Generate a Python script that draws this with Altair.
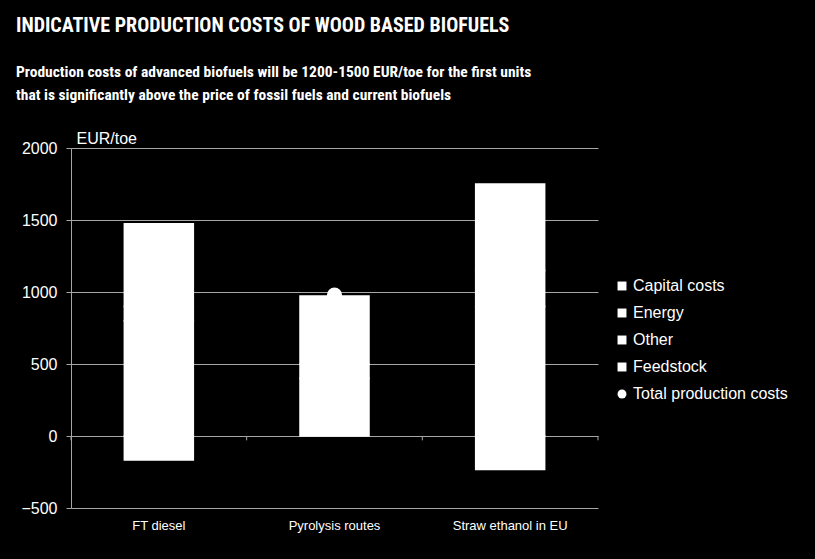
import altair as alt
import pandas as pd

categories = ["FT diesel", "Pyrolysis routes", "Straw ethanol in EU"]
components = ["Capital costs", "Energy", "Other", "Feedstock"]
capital_costs = [800, 400, 900]
energy = [100, 100, 250]
other = [-167, 0, -232]
feedstock = [574, 472, 600]
total_costs = [1307, 978, 1518]
legend_items = components + ["Total production costs"]
y_ticks = [-500, 0, 500, 1000, 1500, 2000]

title_text = "INDICATIVE PRODUCTION COSTS OF WOOD BASED BIOFUELS"
subtitle_lines = [
    "Production costs of advanced biofuels will be 1200-1500 EUR/toe for the first units",
    "that is significantly above the price of fossil fuels and current biofuels",
]

rows = []
for comp, vals in zip(components, [capital_costs, energy, other, feedstock]):
    for c, v in zip(categories, vals):
        rows.append({"category": c, "series": comp, "value": v, "order": components.index(comp)})
bars_df = pd.DataFrame(rows)
tot_df = pd.DataFrame({"category": categories, "series": "Total production costs", "value": total_costs})

W, H = 527, 360
FONT = "Liberation Sans"
NARROW = "Roboto Condensed"

x_enc = alt.X("category:N", sort=categories,
              scale=alt.Scale(paddingInner=0, paddingOuter=0),
              axis=alt.Axis(title=None, domain=False, ticks=False, labelColor="white",
                            labelFontSize=13, labelFont=FONT, labelPadding=11, labelAngle=0))
y_scale = alt.Scale(domain=[-500, 2000], nice=False, zero=False)
y_axis = alt.Axis(values=y_ticks, format="d", title="EUR/toe", titleAngle=0, titleAlign="left",
                  titleBaseline="middle", titleX=5, titleY=-10, titleColor="white",
                  titleFontSize=16, titleFont=FONT, titleFontWeight="normal",
                  labelColor="white", labelFontSize=16, labelFont=FONT, labelPadding=9,
                  tickSize=5, tickColor="#a6a6a6", domainColor="#a6a6a6",
                  gridColor="#a6a6a6", grid=True)

color_scale = alt.Scale(domain=legend_items, range=["white"] * 5)
shape_scale = alt.Scale(domain=legend_items, range=["square"] * 4 + ["circle"])
legend = alt.Legend(title=None, orient="none", legendX=543, legendY=130,
                    labelColor="white", labelFontSize=16, labelFont=FONT,
                    symbolSize=80, rowPadding=11, padding=0, symbolStrokeWidth=0,
                    symbolOpacity=1, labelOffset=3)

bars = alt.Chart(bars_df).mark_bar(size=69, stroke="white", strokeWidth=1.5).encode(
    x=x_enc,
    y=alt.Y("value:Q", scale=y_scale, axis=y_axis, stack="zero"),
    color=alt.Color("series:N", scale=color_scale, legend=legend),
    shape=alt.Shape("series:N", scale=shape_scale, legend=legend),
    order=alt.Order("order:Q"),
)

points = alt.Chart(tot_df).mark_point(filled=True, size=230, opacity=1).encode(
    x=alt.X("category:N", sort=categories),
    y=alt.Y("value:Q"),
    color=alt.Color("series:N", scale=color_scale, legend=legend),
    shape=alt.Shape("series:N", scale=shape_scale, legend=legend),
)

tick_df = pd.DataFrame({"category": categories})
ticks = alt.Chart(tick_df).mark_rule(color="#a6a6a6", strokeWidth=1).encode(
    x=alt.X("category:N", sort=categories, bandPosition=0),
    y=alt.datum(0),
    y2=alt.datum(-30),
)
ticks_end = alt.Chart(pd.DataFrame({"category": [categories[-1]]})).mark_rule(color="#a6a6a6").encode(
    x=alt.X("category:N", sort=categories, bandPosition=1),
    y=alt.datum(0),
    y2=alt.datum(-30),
)

title = alt.Chart(pd.DataFrame({"t": [title_text]})).mark_text(
    align="left", baseline="alphabetic", color="white", fontSize=20,
    fontWeight="bold", font=NARROW).encode(
    text="t:N", x=alt.value(-55), y=alt.value(-116))

sub1 = alt.Chart(pd.DataFrame({"t": [subtitle_lines[0]]})).mark_text(
    align="left", baseline="alphabetic", color="white", fontSize=15.5,
    fontWeight="bold", font=NARROW).encode(
    text="t:N", x=alt.value(-55), y=alt.value(-71))
sub2 = alt.Chart(pd.DataFrame({"t": [subtitle_lines[1]]})).mark_text(
    align="left", baseline="alphabetic", color="white", fontSize=15.5,
    fontWeight="bold", font=NARROW).encode(
    text="t:N", x=alt.value(-55), y=alt.value(-48))

chart = alt.layer(bars, points, ticks, ticks_end, title, sub1, sub2).properties(
    width=W, height=H,
    autosize=alt.AutoSizeParams(type="none"),
    padding={"left": 71, "top": 148, "right": 217, "bottom": 51},
    background="black",
).configure_view(stroke=None).configure_axis(gridWidth=1)

chart.save("out.html", embed_options={"renderer": "svg", "actions": False})
